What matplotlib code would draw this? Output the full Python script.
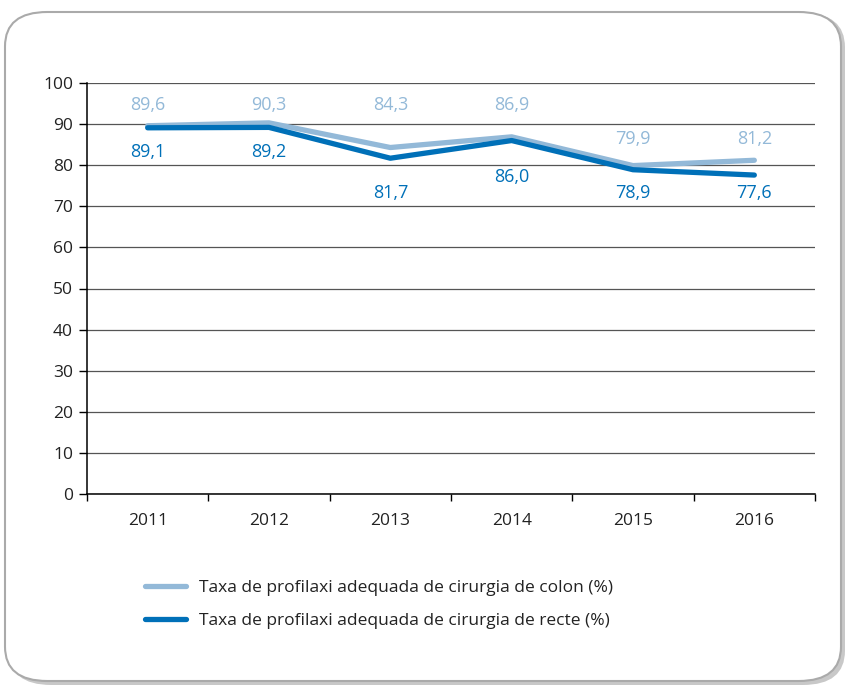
import matplotlib.pyplot as plt
from matplotlib.patches import FancyBboxPatch
import numpy as np

# Data
years = ['2011', '2012', '2013', '2014', '2015', '2016']
colon = [89.6, 90.3, 84.3, 86.9, 79.9, 81.2]
recte = [89.1, 89.2, 81.7, 86.0, 78.9, 77.6]
colon_label = 'Taxa de profilaxi adequada de cirurgia de colon (%)'
recte_label = 'Taxa de profilaxi adequada de cirurgia de recte (%)'

# label placement (data units), as laid out in the original
colon_text_y = [94.6, 94.6, 94.6, 94.6, 86.4, 86.4]
recte_text_y = [83.2, 83.2, 73.2, 77.1, 73.2, 73.2]

light = '#93b9d8'
dark = '#0070b8'

plt.rcParams['font.family'] = ['Open Sans', 'DejaVu Sans']

fig = plt.figure(figsize=(8.46, 6.87), dpi=100)
W, H = 846, 687

# rounded frame with a soft shadow at bottom right
shadow = FancyBboxPatch((9 / W, 2 / H), 836 / W, 672 / H,
                        boxstyle='round,pad=0,rounding_size=0.05',
                        transform=fig.transFigure, facecolor='#c8c8c8',
                        edgecolor='none', zorder=-2)
frame = FancyBboxPatch((5 / W, 6 / H), 836 / W, 669 / H,
                       boxstyle='round,pad=0,rounding_size=0.05',
                       transform=fig.transFigure, facecolor='white',
                       edgecolor='#aaaaaa', linewidth=1.5, zorder=-1)
fig.patches.extend([shadow, frame])

ax = fig.add_axes([87 / W, 193 / H, 728 / W, 411 / H])
ax.set_facecolor('none')
x = np.arange(len(years))

ax.plot(x, colon, color=light, lw=3.8, solid_capstyle='round',
        solid_joinstyle='round', label=colon_label, zorder=3)
ax.plot(x, recte, color=dark, lw=3.8, solid_capstyle='round',
        solid_joinstyle='round', label=recte_label, zorder=4)

for i in range(len(years)):
    ax.text(x[i], colon_text_y[i], f'{colon[i]:.1f}'.replace('.', ','),
            ha='center', va='center', color=light, fontsize=13)
    ax.text(x[i], recte_text_y[i], f'{recte[i]:.1f}'.replace('.', ','),
            ha='center', va='center', color=dark, fontsize=13)

ax.set_xlim(-0.5, len(years) - 0.5)
ax.set_ylim(0, 100)
ax.set_yticks(np.arange(0, 101, 10))
ax.yaxis.grid(True, color='#555555', linewidth=0.9)
ax.set_axisbelow(True)

ax.set_xticks(np.arange(-0.5, len(years), 1.0))
ax.set_xticklabels([])
ax.set_xticks(x, minor=True)
ax.set_xticklabels(years, minor=True)
ax.tick_params(axis='x', which='major', length=5, width=1, color='black')
ax.tick_params(axis='x', which='minor', length=0, pad=14, labelsize=12.5,
               labelcolor='#222222')
ax.tick_params(axis='y', length=6, width=1, color='black', labelsize=12.5,
               labelcolor='#222222', pad=4)

for s in ['top', 'right']:
    ax.spines[s].set_visible(False)
for s in ['left', 'bottom']:
    ax.spines[s].set_color('black')
    ax.spines[s].set_linewidth(1.1)

fig.legend(loc='upper left', bbox_to_anchor=(129 / W, 1 - 564 / H),
           frameon=False, fontsize=12.5, handlelength=2.4, handletextpad=0.75,
           labelspacing=1.0, labelcolor='#222222')

plt.savefig('out.png', dpi=100)
